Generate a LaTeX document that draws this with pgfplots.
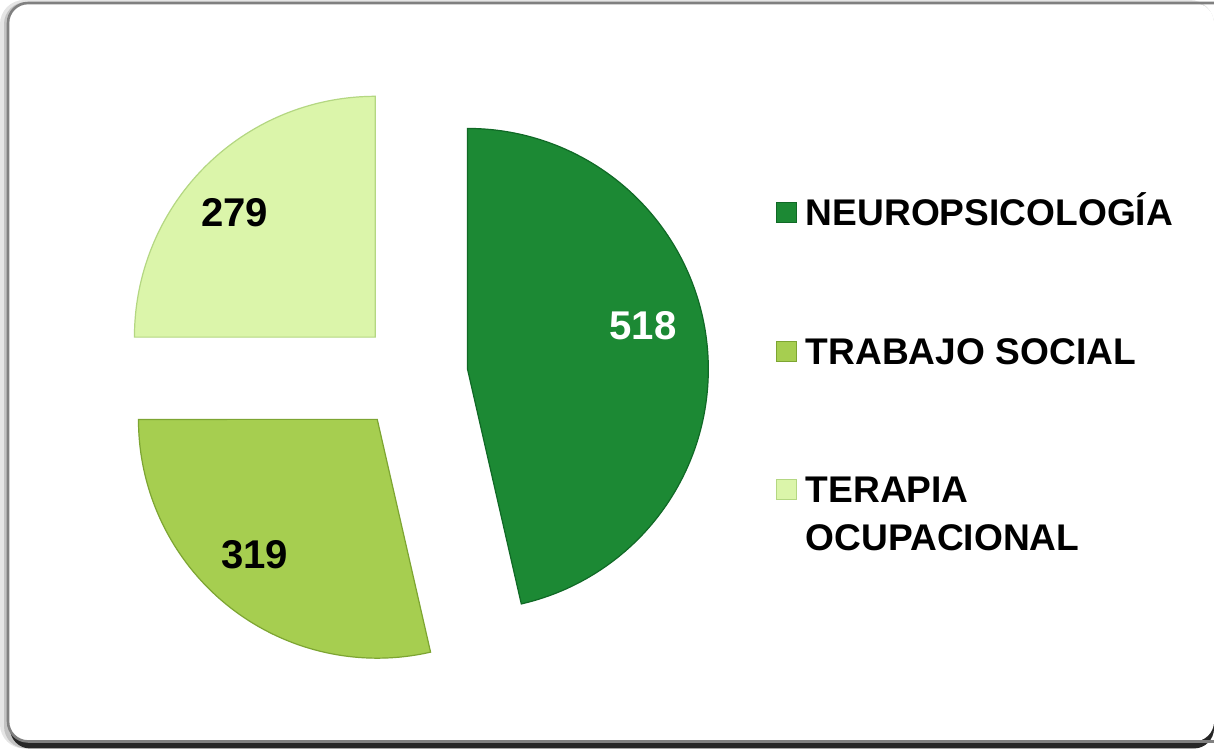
\documentclass[border=0pt]{standalone}
\usepackage{pgfplots}
\pgfplotsset{compat=1.18}
\usepackage{fontspec}
\setmainfont{Liberation Sans}
\definecolor{cN}{RGB}{28,137,52}
\definecolor{cNd}{RGB}{16,105,38}
\definecolor{cT}{RGB}{166,206,80}
\definecolor{cTd}{RGB}{125,165,50}
\definecolor{cO}{RGB}{219,245,170}
\definecolor{cOd}{RGB}{180,215,130}
\def\vN{518}
\def\vT{319}
\def\vO{279}
\pgfmathsetmacro{\tot}{\vN+\vT+\vO}
\pgfmathsetmacro{\aN}{\vN/\tot*360}
\pgfmathsetmacro{\aT}{\vT/\tot*360}
\pgfmathsetmacro{\aO}{\vO/\tot*360}
\pgfmathsetmacro{\sN}{90-\aN}
\pgfmathsetmacro{\eT}{\sN+360}
\pgfmathsetmacro{\sT}{\eT-\aT}
\pgfmathsetmacro{\sO}{\sT-\aO}
\begin{document}
\begin{tikzpicture}
\begin{axis}[
  width=607pt, height=374pt, scale only axis,
  xmin=0, xmax=1214, ymin=0, ymax=748,
  axis lines=none,
  legend image code/.code={\fill[#1] (0pt,-3.5pt) rectangle (10pt,6.5pt); \path (14.5pt,0pt);},
  legend cell align=left,
  legend style={at={(axis cs:777,549)}, anchor=north west, draw=none, fill=none,
    inner sep=0pt, outer sep=0pt, row sep=51pt,
    font=\fontsize{18.5}{24.5}\selectfont\bfseries,
    nodes={inner sep=0pt, text height=14pt, text depth=4pt}},
]
% frame shadow
\fill[black, opacity=0.10, rounded corners=12pt] (axis cs:1214,0) -- (axis cs:4,0) -- (axis cs:4,746) -- (axis cs:1214,746) -- cycle;
\fill[black, opacity=0.15, rounded corners=11pt] (axis cs:1214,0) -- (axis cs:8,0) -- (axis cs:8,744) -- (axis cs:1214,744) -- cycle;
\fill[black!85, rounded corners=10pt] (axis cs:1214,0) -- (axis cs:14,0) -- (axis cs:14,600) -- (axis cs:1214,600) -- cycle;
\fill[white, rounded corners=10pt] (axis cs:1214,7) -- (axis cs:12,7) -- (axis cs:12,743) -- (axis cs:1214,743) -- cycle;
\draw[black!50, line width=1.3pt, rounded corners=10pt] (axis cs:1216,7) -- (axis cs:12,7) -- (axis cs:12,743) -- (axis cs:1216,743);
% sectors
\addplot[fill=cN, draw=cNd, line width=0.6pt, domain=\sN:90, samples=120]
  ({470+240*cos(x)},{378+240*sin(x)}) -- (axis cs:470,378) -- cycle;
\addlegendentry{NEUROPSICOLOGÍA}
\addplot[fill=cT, draw=cTd, line width=0.6pt, domain=\sT:\eT, samples=120]
  ({380+238*cos(x)},{328+238*sin(x)}) -- (axis cs:380,328) -- cycle;
\addlegendentry{TRABAJO SOCIAL}
\addplot[fill=cO, draw=cOd, line width=0.6pt, domain=\sO:\sT, samples=120]
  ({378+240*cos(x)},{410+240*sin(x)}) -- (axis cs:378,410) -- cycle;
\addlegendentry{\begin{tabular}[t]{@{}l@{}}TERAPIA\\[-0.5pt]OCUPACIONAL\end{tabular}}
% data labels
\node[font=\fontsize{20}{24}\selectfont\bfseries, text=white] at (axis cs:645,421) {\vN};
\node[font=\fontsize{20}{24}\selectfont\bfseries, text=black] at (axis cs:258,193) {\vT};
\node[font=\fontsize{20}{24}\selectfont\bfseries, text=black] at (axis cs:238,534) {\vO};
\end{axis}
\end{tikzpicture}
\end{document}
